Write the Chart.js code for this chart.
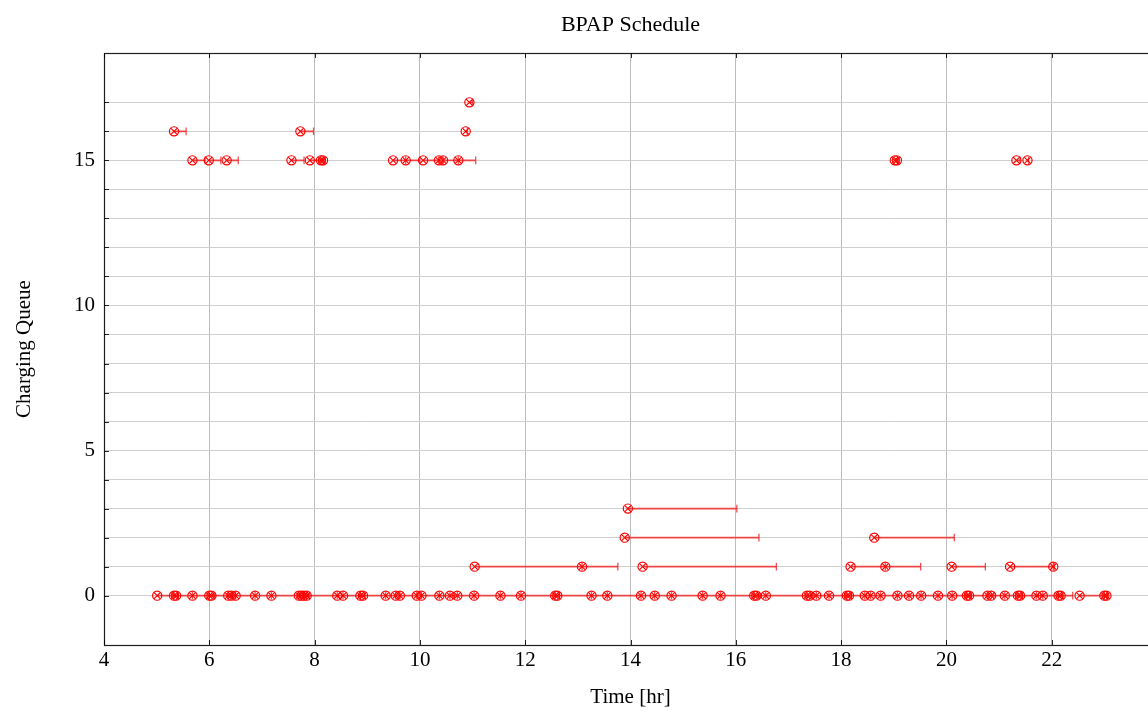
<!DOCTYPE html>
<html>
<head>
<meta charset="utf-8">
<script src="https://cdn.jsdelivr.net/npm/chart.js@4.4.1/dist/chart.umd.min.js"></script>
<style>
  html, body { margin: 0; padding: 0; background: #fff; overflow: hidden; }
  #wrap { width: 1148px; height: 713px; overflow: hidden; }
  canvas { display: block; }
</style>
</head>
<body>
<div id="wrap"><canvas id="c" width="1170" height="713"></canvas></div>
<script>
// ---- Data (start time of charging, end of the interval) per charging queue ----
const q0Start = [5.01, 5.33, 5.37, 5.68, 6.00, 6.04, 6.36, 6.42, 6.50, 6.87, 7.18, 7.70, 7.75, 7.80, 7.85,
  8.43, 8.54, 8.87, 8.92, 9.35, 9.54, 9.62, 9.94, 10.03, 10.37, 10.57, 10.71, 11.03, 11.53, 11.92,
  12.57, 12.61, 13.26, 13.56, 14.20, 14.46, 14.78, 15.37, 15.71, 16.35, 16.39, 16.57, 17.35, 17.40,
  17.53, 17.77, 18.11, 18.15, 18.45, 18.56, 18.75, 19.07, 19.29, 19.52, 19.84, 20.11, 20.39, 20.43,
  20.78, 20.85, 21.11, 21.36, 21.40, 21.71, 21.83, 22.13, 22.17, 22.53, 23.00, 23.04];
const q0End = [5.33, 5.40, 5.68, 6.00, 6.10, 6.36, 6.45, 6.50, 6.87, 7.18, 7.70, 7.80, 7.85, 7.90, 8.43,
  8.54, 8.87, 8.95, 9.35, 9.54, 9.62, 9.94, 10.03, 10.37, 10.57, 10.71, 11.03, 11.53, 11.92, 12.57,
  12.65, 13.26, 13.56, 14.20, 14.46, 14.78, 15.37, 15.71, 16.35, 16.45, 16.57, 17.35, 17.45, 17.53,
  17.77, 18.11, 18.20, 18.45, 18.56, 18.75, 19.07, 19.29, 19.52, 19.84, 20.11, 20.39, 20.45, 20.78,
  20.90, 21.11, 21.36, 21.45, 21.71, 21.83, 22.13, 22.20, 22.40, 23.00, 23.06, 23.05];
const q1Start = [11.04, 13.08, 14.23, 18.18, 18.84, 20.10, 21.21, 22.03];
const q1End   = [13.08, 13.76, 16.77, 18.84, 19.51, 20.74, 22.03, 22.05];
const q2Start = [13.89, 18.63];
const q2End   = [16.44, 20.15];
const q3Start = [13.95];
const q3End   = [16.02];
const q15Start = [5.68, 5.99, 6.33, 7.56, 7.91, 8.12, 8.16, 9.49, 9.73, 10.06, 10.36, 10.44, 10.73,
  19.02, 19.06, 21.33, 21.54];
const q15End   = [5.92, 6.22, 6.55, 7.80, 8.12, 8.16, 8.18, 9.73, 10.00, 10.36, 10.44, 10.73, 11.06,
  19.07, 19.08, 21.40, 21.56];
const q16Start = [5.33, 7.73, 10.87];
const q16End   = [5.56, 7.98, 10.90];
const q17Start = [10.94];
const q17End   = [11.00];

const xTicksMin = 4, xTicksMax = 24, xStep = 2;
const xLabelMax = 22; // last label visible in the picture
const yMin = -1.7, yMax = 18.7;
const yLabelEvery = 5;

const rows = [
  { q: 0, s: q0Start, e: q0End },
  { q: 1, s: q1Start, e: q1End },
  { q: 2, s: q2Start, e: q2End },
  { q: 3, s: q3Start, e: q3End },
  { q: 15, s: q15Start, e: q15End },
  { q: 16, s: q16Start, e: q16End },
  { q: 17, s: q17Start, e: q17End }
];

const markPts = [], segPts = [], endPts = [];
rows.forEach(r => {
  r.s.forEach((sv, i) => {
    markPts.push({ x: sv, y: r.q });
    segPts.push({ x: sv, y: r.q }, { x: r.e[i], y: r.q }, { x: r.e[i], y: null });
    endPts.push({ x: r.e[i], y: r.q });
  });
});

const RED = '#ff0000';
const ERR = 'rgba(240,30,30,0.78)';
const FONT = '"Liberation Serif", "DejaVu Serif", serif';

const framePlugin = {
  id: 'frame',
  afterDraw(chart) {
    const { ctx, chartArea: a, scales } = chart;
    ctx.save();
    ctx.strokeStyle = 'rgba(0,0,0,0.85)';
    ctx.lineWidth = 1;
    ctx.beginPath();
    scales.x.ticks.forEach(t => {
      const px = Math.round(scales.x.getPixelForValue(t.value)) + 0.5;
      ctx.moveTo(px, a.bottom); ctx.lineTo(px, a.bottom - 5);
      ctx.moveTo(px, a.top); ctx.lineTo(px, a.top + 5);
    });
    scales.y.ticks.forEach(t => {
      if (!Number.isInteger(t.value)) return;
      const py = Math.round(scales.y.getPixelForValue(t.value)) + 0.5;
      ctx.moveTo(a.left, py); ctx.lineTo(a.left + 5, py);
      ctx.moveTo(a.right, py); ctx.lineTo(a.right - 5, py);
    });
    ctx.stroke();
    ctx.lineWidth = 1.2;
    ctx.strokeRect(Math.round(a.left) + 0.5, Math.round(a.top) + 0.5, a.right - a.left, a.bottom - a.top);
    ctx.restore();
  }
};

new Chart(document.getElementById('c'), {
  type: 'scatter',
  data: {
    datasets: [
      { label: 'circle', data: markPts, pointStyle: 'circle', pointRadius: 4.6, pointBorderWidth: 1.2,
        borderColor: RED, backgroundColor: 'rgba(0,0,0,0)', order: 0 },
      { label: 'cross', data: markPts, pointStyle: 'crossRot', pointRadius: 4.6, pointBorderWidth: 1.2,
        borderColor: RED, backgroundColor: RED, order: 0 },
      { label: 'interval', data: segPts, showLine: true, spanGaps: false, pointRadius: 0,
        borderColor: ERR, borderWidth: 1.6, order: 2 },
      { label: 'end', data: endPts, pointStyle: 'line', rotation: 90, pointRadius: 3.8, pointBorderWidth: 1.3,
        borderColor: ERR, backgroundColor: ERR, order: 1 }
    ]
  },
  options: {
    responsive: false,
    animation: false,
    events: [],
    layout: { padding: { left: 0, right: 13, top: 0, bottom: 0 } },
    plugins: {
      legend: { display: false },
      tooltip: { enabled: false },
      title: {
        display: true, text: 'BPAP Schedule', fullSize: false, color: '#000',
        font: { family: FONT, size: 22, weight: 'normal', lineHeight: 1.2 },
        padding: { top: 12, bottom: 14.6 }
      }
    },
    scales: {
      x: {
        type: 'linear', min: xTicksMin, max: xTicksMax,
        afterFit: s => { s.height = 68; },
        ticks: { stepSize: xStep, color: '#000', padding: 3, maxRotation: 0, autoSkip: false,
          font: { family: FONT, size: 21 },
          callback: v => (v <= xLabelMax ? String(v) : '') },
        grid: { color: '#bdbdbd', lineWidth: 1, drawTicks: false },
        border: { display: false },
        title: { display: true, text: 'Time [hr]', color: '#000',
          font: { family: FONT, size: 21 }, padding: { top: 0, bottom: 3 } }
      },
      y: {
        type: 'linear', min: yMin, max: yMax,
        afterFit: s => { s.width = 104; },
        ticks: { stepSize: 1, color: '#000', padding: 9, autoSkip: false,
          font: { family: FONT, size: 21 },
          callback: v => (Number.isInteger(v) && v % yLabelEvery === 0) ? String(v) : '' },
        grid: { color: '#cfcfcf', lineWidth: 1, drawTicks: false },
        border: { display: false },
        title: { display: true, text: 'Charging Queue', color: '#000',
          font: { family: FONT, size: 21 }, padding: { top: 12, bottom: 0 } }
      }
    }
  },
  plugins: [framePlugin]
});
</script>
</body>
</html>
